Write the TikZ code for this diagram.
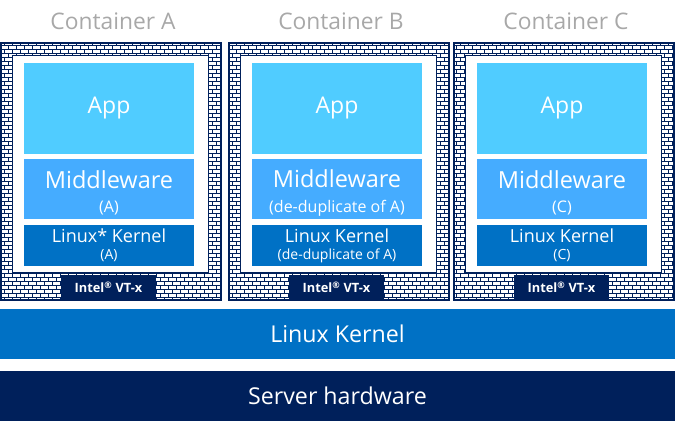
\documentclass[tikz,border=0pt]{standalone}
\usepackage{fontspec}
\setmainfont{Open Sans}
\usepackage{tikz}
\usetikzlibrary{patterns,positioning}
\definecolor{intelNavy}{HTML}{00205B}
\definecolor{intelBlue}{HTML}{0071C5}
\definecolor{appBlue}{HTML}{50CCFF}
\definecolor{midBlue}{HTML}{45ACFF}
\definecolor{titleGray}{HTML}{A8A8A8}
\pgfdeclarepatternformonly{wallBricks}{\pgfqpoint{-1pt}{-1pt}}{\pgfqpoint{9pt}{9pt}}{\pgfqpoint{8pt}{8pt}}{
	\pgfsetlinewidth{1pt}
	\pgfpathmoveto{\pgfqpoint{-1pt}{0pt}}\pgfpathlineto{\pgfqpoint{9pt}{0pt}}
	\pgfpathmoveto{\pgfqpoint{-1pt}{4pt}}\pgfpathlineto{\pgfqpoint{9pt}{4pt}}
	\pgfpathmoveto{\pgfqpoint{0pt}{0pt}}\pgfpathlineto{\pgfqpoint{0pt}{4pt}}
	\pgfpathmoveto{\pgfqpoint{4pt}{4pt}}\pgfpathlineto{\pgfqpoint{4pt}{8pt}}
	\pgfusepath{stroke}}
\tikzstyle{wall} = [rectangle, minimum width=220pt, minimum height=257pt, draw=intelNavy, line width=1.5pt, preaction={fill=white}, pattern=wallBricks, pattern color=intelNavy, inner sep=0pt, outer sep=0pt]
\tikzstyle{room} = [rectangle, minimum width=196pt, minimum height=217pt, draw=intelNavy, line width=1pt, fill=white, inner sep=0pt, outer sep=0pt]
\tikzstyle{layer} = [rectangle, minimum width=170pt, align=center, text=white, inner sep=0pt, outer sep=0pt]
\tikzstyle{app} = [layer, minimum height=91pt, fill=appBlue, font=\fontsize{23}{23}\selectfont]
\tikzstyle{middleware} = [layer, minimum height=60pt, fill=midBlue, font=\fontsize{23.5}{23.5}\selectfont]
\tikzstyle{kernel} = [layer, minimum height=41pt, fill=intelBlue, font=\fontsize{18}{18}\selectfont]
\tikzstyle{vtx} = [rectangle, minimum width=95pt, minimum height=24pt, fill=intelNavy, text=white, font=\bfseries\fontsize{12.8}{12.8}\selectfont, inner sep=0pt, outer sep=0pt]
\tikzstyle{title} = [text=titleGray, font=\fontsize{22.8}{22.8}\selectfont, inner sep=0pt]
\tikzstyle{bar} = [rectangle, minimum width=675pt, minimum height=50pt, text=white, font=\fontsize{23.2}{23.2}\selectfont, inner sep=0pt, outer sep=0pt]
\newcommand{\subline}[1]{{\fontsize{14}{14}\selectfont #1}}
\newcommand{\midline}[1]{{\fontsize{16}{16}\selectfont #1}}

\begin{document}
\begin{tikzpicture}[x=1pt, y=1pt]
	\useasboundingbox (0,0) rectangle (675,426);
	% container A
	\node (wallA) [wall] at (111,254.5) {};
	\node (roomA) [room] at (110,261.5) {};
	\node (titleA) [title] at (113,405) {Container A};
	\node (appA) [app] at (109,317.5) {App};
	\node (middlewareA) [middleware, below=5pt of appA] {\rule{0pt}{26pt}Middleware\\[1pt]\midline{(A)}};
	\node (kernelA) [kernel, below=6pt of middlewareA] {Linux* Kernel\\[-1pt]\subline{(A)}};
	\node (vtxA) [vtx] at (108.5,139) {Intel\textsuperscript{®} VT-x};
	% container B
	\node (wallB) [wall] at (339,254.5) {};
	\node (roomB) [room] at (338,261.5) {};
	\node (titleB) [title] at (341,405) {Container B};
	\node (appB) [app] at (337,317.5) {App};
	\node (middlewareB) [middleware, below=5pt of appB] {\rule{0pt}{26pt}Middleware\\[1pt]\midline{(de-duplicate of A)}};
	\node (kernelB) [kernel, below=6pt of middlewareB] {Linux Kernel\\[-1pt]\subline{(de-duplicate of A)}};
	\node (vtxB) [vtx] at (336.5,139) {Intel\textsuperscript{®} VT-x};
	% container C
	\node (wallC) [wall] at (564,254.5) {};
	\node (roomC) [room] at (563,261.5) {};
	\node (titleC) [title] at (566,405) {Container C};
	\node (appC) [app] at (562,317.5) {App};
	\node (middlewareC) [middleware, below=5pt of appC] {\rule{0pt}{26pt}Middleware\\[1pt]\midline{(C)}};
	\node (kernelC) [kernel, below=6pt of middlewareC] {Linux Kernel\\[-1pt]\subline{(C)}};
	\node (vtxC) [vtx] at (561.5,139) {Intel\textsuperscript{®} VT-x};
	% host
	\node (hostKernel) [bar, fill=intelBlue] at (337.5,92) {Linux Kernel};
	\node (serverHardware) [bar, fill=intelNavy, below=12pt of hostKernel] {Server hardware};
\end{tikzpicture}
\end{document}
